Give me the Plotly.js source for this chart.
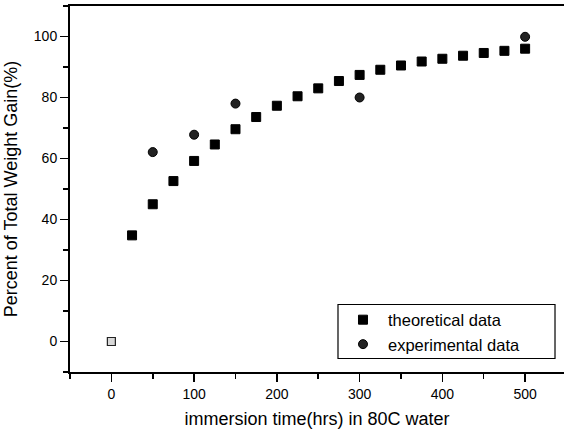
<!DOCTYPE html>
<html>
<head>
<meta charset="utf-8">
<script src="https://cdn.plot.ly/plotly-3.0.1.min.js"></script>
<style>html,body{margin:0;padding:0;background:#fff;}#chart{width:564px;height:433px;}</style>
</head>
<body>
<div id="chart"></div>
<script>
// Data
var theoreticalHours = [0, 25, 50, 75, 100, 125, 150, 175, 200, 225, 250, 275, 300, 325, 350, 375, 400, 425, 450, 475, 500];
var theoreticalGain  = [0, 34.8, 45.0, 52.6, 59.2, 64.6, 69.6, 73.6, 77.3, 80.4, 83.0, 85.4, 87.4, 89.1, 90.5, 91.8, 92.7, 93.7, 94.6, 95.3, 96.0];
var experimentalHours = [50, 100, 150, 300, 500];
var experimentalGain  = [62.1, 67.8, 78.0, 80.0, 99.9];
var xTickVals = [0, 100, 200, 300, 400, 500];
var yTickVals = [0, 20, 40, 60, 80, 100];

var FONT = 'Liberation Sans, Arial, sans-serif';

// the origin point is drawn lighter in the reference (overlapping markers)
var originIdx = [], restIdx = [];
theoreticalHours.forEach(function (h, i) { (h === 0 ? originIdx : restIdx).push(i); });
function pick(arr, idx) { return idx.map(function (i) { return arr[i]; }); }

var traces = [
  {
    x: pick(theoreticalHours, restIdx), y: pick(theoreticalGain, restIdx), type: 'scatter', mode: 'markers',
    name: 'theoretical data',
    marker: { symbol: 'square', size: 9, color: '#000', line: { color: '#000', width: 1 } }
  },
  {
    x: experimentalHours, y: experimentalGain, type: 'scatter', mode: 'markers',
    name: 'experimental data',
    marker: { symbol: 'circle', size: 9, color: '#222', line: { color: '#000', width: 1 } }
  },
  {
    x: pick(theoreticalHours, originIdx), y: pick(theoreticalGain, originIdx), type: 'scatter', mode: 'markers',
    name: 'theoretical data (origin)', showlegend: false,
    marker: { symbol: 'square', size: 8, color: '#d8d8d8', line: { color: '#222', width: 1.2 } }
  }
];

var layout = {
  width: 564, height: 433,
  margin: { l: 70, r: 0, t: 6, b: 61, pad: 0 },
  paper_bgcolor: '#fff', plot_bgcolor: '#fff',
  font: { family: FONT, size: 14, color: '#000' },
  showlegend: true,
  legend: {
    x: 0.5425, y: 0.19, xanchor: 'left', yanchor: 'top',
    borderwidth: 0, bgcolor: 'rgba(0,0,0,0)',
    font: { family: FONT, size: 16.5, color: '#000' },
    itemwidth: 40, tracegroupgap: 0
  },
  shapes: [{
    type: 'rect', xref: 'paper', yref: 'paper',
    x0: 0.5425, x1: 0.9818, y0: 0.0369, y1: 0.1844,
    line: { color: '#000', width: 1.2 }, fillcolor: 'rgba(0,0,0,0)', layer: 'above'
  }],
  xaxis: {
    range: [-50, 547], showgrid: false, zeroline: false,
    showline: true, linecolor: '#000', linewidth: 2, mirror: true,
    ticks: 'outside', ticklen: 8, tickwidth: 1.5, tickcolor: '#000',
    tickvals: xTickVals, ticktext: xTickVals.map(String),
    minor: { dtick: 50, tick0: 0, ticks: 'outside', ticklen: 5, tickwidth: 1.5, tickcolor: '#000' },
    tickfont: { family: FONT, size: 14 },
    title: { text: 'immersion time(hrs) in 80C water', font: { family: FONT, size: 18 }, standoff: 12 },
    automargin: false
  },
  yaxis: {
    range: [-10, 110], showgrid: false, zeroline: false,
    showline: true, linecolor: '#000', linewidth: 2, mirror: false,
    ticks: 'outside', ticklen: 8, tickwidth: 1.5, tickcolor: '#000',
    tickvals: yTickVals, ticktext: yTickVals.map(String),
    minor: { dtick: 10, tick0: 0, ticks: 'outside', ticklen: 5, tickwidth: 1.5, tickcolor: '#000' },
    tickfont: { family: FONT, size: 14 },
    title: { text: 'Percent of Total Weight Gain(%)', font: { family: FONT, size: 18 }, standoff: 12 },
    automargin: false
  }
};

Plotly.newPlot('chart', traces, layout, { staticPlot: true, displayModeBar: false });
</script>
</body>
</html>
